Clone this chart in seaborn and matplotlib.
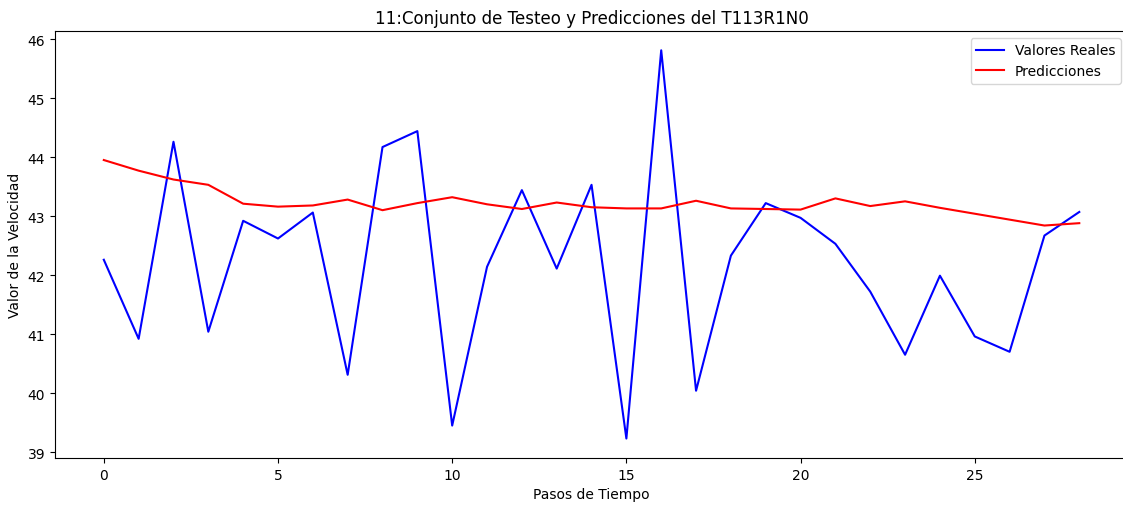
import matplotlib
matplotlib.use("Agg")
import matplotlib.pyplot as plt
import seaborn as sns
import numpy as np
import pandas as pd

# Velocidad real y predicha por paso de tiempo
pasos = list(range(29))
valores_reales = [42.26, 40.92, 44.26, 41.04, 42.92, 42.62, 43.06, 40.31, 44.17, 44.44,
                  39.45, 42.14, 43.44, 42.11, 43.53, 39.23, 45.81, 40.04, 42.33, 43.22,
                  42.97, 42.53, 41.72, 40.65, 41.99, 40.96, 40.70, 42.67, 43.07]
predicciones = [43.95, 43.77, 43.62, 43.53, 43.21, 43.16, 43.18, 43.28, 43.10, 43.22,
                43.32, 43.20, 43.12, 43.23, 43.15, 43.13, 43.13, 43.26, 43.13, 43.12,
                43.11, 43.30, 43.17, 43.25, 43.14, 43.04, 42.94, 42.84, 42.88]

df = pd.DataFrame({"paso": pasos, "real": valores_reales, "pred": predicciones})

fig, ax = plt.subplots(figsize=(11.23, 5.06), dpi=100)
fig.subplots_adjust(left=0.049, right=1.0045, top=0.937, bottom=0.093)

sns.lineplot(data=df, x="paso", y="real", color="blue", label="Valores Reales", ax=ax, linewidth=1.5)
sns.lineplot(data=df, x="paso", y="pred", color="red", label="Predicciones", ax=ax, linewidth=1.5)

ax.set_title("11:Conjunto de Testeo y Predicciones del T113R1N0")
ax.set_xlabel("Pasos de Tiempo")
ax.set_ylabel("Valor de la Velocidad")
ax.legend(loc="upper right")

fig.savefig("out.png", dpi=100)
